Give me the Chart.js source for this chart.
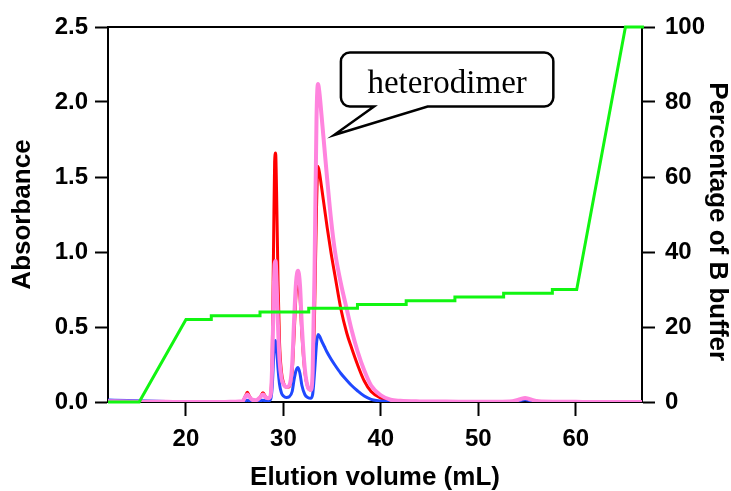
<!DOCTYPE html>
<html><head><meta charset="utf-8">
<script src="https://cdn.jsdelivr.net/npm/chart.js@4.4.1/dist/chart.umd.min.js"></script>
<style>html,body{margin:0;padding:0;background:#fff;overflow:hidden}#wrap{width:731px;height:491px;position:relative}</style>
</head><body><div id="wrap"><canvas id="c"></canvas></div>
<script>
// Elution volume (mL) for absorbance traces
const volume = [12,14,16,18,20,22,24,25,25.8,26.1,26.3,26.5,26.8,27.2,27.6,27.9,28.2,28.5,28.7,28.85,29.0,29.1,29.2,29.3,29.45,29.6,29.8,30.0,30.3,30.6,30.9,31.1,31.3,31.5,31.7,31.9,32.2,32.5,32.8,33.0,33.2,33.4,33.55,33.7,33.9,34.2,34.5,34.9,35.3,35.9,36.5,37.0,37.6,38.3,39.0,40.0,41.0,42.0,44,46,48,50,52,53.5,54.3,54.8,55.3,56.2,58,60,62,64,66,67];
const absRed = [0.005,0.003,0.002,0.001,0,0,0,0.002,0.005,0.04,0.065,0.04,0.012,0.01,0.03,0.062,0.03,0.02,0.05,0.3,1.1,1.6,1.66,1.4,0.8,0.4,0.2,0.13,0.1,0.1,0.2,0.45,0.72,0.8,0.7,0.45,0.2,0.1,0.08,0.15,0.6,1.3,1.57,1.53,1.44,1.3,1.16,0.99,0.84,0.62,0.46,0.36,0.25,0.14,0.07,0.025,0.01,0.005,0.003,0.002,0.002,0.001,0.001,0.003,0.012,0.02,0.012,0.003,0.001,0,0,0,0,0];
const absPink = [0.005,0.003,0.002,0.001,0,0,0,0.002,0.005,0.035,0.05,0.035,0.015,0.012,0.03,0.05,0.03,0.025,0.05,0.25,0.7,0.92,0.94,0.8,0.5,0.28,0.16,0.12,0.1,0.11,0.25,0.55,0.8,0.875,0.78,0.5,0.22,0.1,0.08,0.2,0.9,1.9,2.12,2.06,1.92,1.7,1.48,1.21,1.0,0.79,0.62,0.48,0.34,0.21,0.11,0.045,0.015,0.008,0.004,0.003,0.002,0.002,0.002,0.005,0.018,0.027,0.018,0.005,0.002,0.001,0,0,0,0];
const absBlue = [0.013,0.01,0.006,0.003,0.001,0,0,0,0.001,0.008,0.012,0.008,0.003,0.003,0.008,0.012,0.008,0.008,0.02,0.1,0.3,0.4,0.41,0.36,0.22,0.12,0.06,0.04,0.03,0.035,0.07,0.15,0.21,0.23,0.19,0.11,0.05,0.03,0.025,0.05,0.2,0.39,0.45,0.44,0.41,0.37,0.33,0.285,0.245,0.19,0.145,0.11,0.075,0.04,0.018,0.006,0.002,0.001,0.001,0.001,0.001,0.001,0.001,0.002,0.01,0.015,0.01,0.002,0.001,0,0,0,0,0];
// Gradient (% B buffer)
const gradVolume = [12,15.2,20,22.6,22.6,27.6,27.6,32.6,32.6,37.6,37.6,42.6,42.6,47.6,47.6,52.6,52.6,57.6,57.6,60.1,65.1,67];
const gradPercent = [0,0,22,22,23,23,24,24,25,25,26,26,27,27,28,28,29,29,30,30,100,100];
// Tick labels
const xTicks = [20,30,40,50,60];
const absTicks = [0,0.5,1.0,1.5,2.0,2.5];
const pctTicks = [0,20,40,60,80,100];
// Callout annotation (data units)
const calloutText = 'heterodimer';
const calloutBox = {x0:35.9, x1:57.7, yTop:2.33, yBottom:1.97, textY:2.06};
const calloutTail = {base0:39.3, base1:44.8, tipX:35.2, tipY:1.78};

const pts = (xs, ys) => xs.map((x,i)=>({x:x, y:ys[i]}));
const tickFont = {family:'"Liberation Sans", Arial, sans-serif', size:24, weight:'bold'};
const titleFont = {family:'"Liberation Sans", Arial, sans-serif', size:26, weight:'bold', lineHeight:1};

const calloutPlugin = {
  id:'callout',
  afterDatasetsDraw(chart){
    const {ctx, scales:{x, y}} = chart;
    const L = x.getPixelForValue(calloutBox.x0), R = x.getPixelForValue(calloutBox.x1);
    const T = y.getPixelForValue(calloutBox.yTop), B = y.getPixelForValue(calloutBox.yBottom);
    const b0 = x.getPixelForValue(calloutTail.base0), b1 = x.getPixelForValue(calloutTail.base1);
    const tx = x.getPixelForValue(calloutTail.tipX), ty = y.getPixelForValue(calloutTail.tipY);
    const r = 9;
    ctx.save();
    ctx.beginPath();
    ctx.moveTo(L+r, T);
    ctx.lineTo(R-r, T); ctx.arcTo(R, T, R, T+r, r);
    ctx.lineTo(R, B-r); ctx.arcTo(R, B, R-r, B, r);
    ctx.lineTo(b1, B); ctx.lineTo(tx, ty); ctx.lineTo(b0, B);
    ctx.lineTo(L+r, B); ctx.arcTo(L, B, L, B-r, r);
    ctx.lineTo(L, T+r); ctx.arcTo(L, T, L+r, T, r);
    ctx.closePath();
    ctx.fillStyle = '#fff'; ctx.fill();
    ctx.lineWidth = 2.5; ctx.strokeStyle = '#000'; ctx.lineJoin='miter'; ctx.stroke();
    ctx.fillStyle = '#000';
    ctx.font = '33px "Liberation Serif", "Times New Roman", serif';
    ctx.textAlign = 'center'; ctx.textBaseline = 'alphabetic';
    ctx.fillText(calloutText, (L+R)/2, y.getPixelForValue(calloutBox.textY));
    ctx.restore();
  }
};

new Chart(document.getElementById('c'), {
  type:'line',
  data:{datasets:[
    {label:'% B', data:pts(gradVolume, gradPercent), yAxisID:'y1', borderColor:'#11f511', borderWidth:3, tension:0, pointRadius:0, order:0, clip:4},
    {label:'pink', data:pts(volume, absPink), yAxisID:'y', borderColor:'#ff84de', borderWidth:4, cubicInterpolationMode:'monotone', pointRadius:0, order:1},
    {label:'blue', data:pts(volume, absBlue), yAxisID:'y', borderColor:'#1f48ff', borderWidth:3, cubicInterpolationMode:'monotone', pointRadius:0, order:2},
    {label:'red', data:pts(volume, absRed), yAxisID:'y', borderColor:'#ff0000', borderWidth:3, cubicInterpolationMode:'monotone', pointRadius:0, order:3}
  ]},
  options:{
    responsive:true, maintainAspectRatio:false, animation:false,
    layout:{padding:0},
    plugins:{legend:{display:false}, tooltip:{enabled:false}},
    scales:{
      x:{type:'linear', position:'bottom', min:12, max:66.8,
        afterBuildTicks(s){ s.ticks = xTicks.map(v=>({value:v})); },
        afterFit(s){ s.height = 89; },
        grid:{drawOnChartArea:false, tickLength:14, tickWidth:2, tickColor:'#000'},
        border:{color:'#000', width:2},
        ticks:{color:'#000', font:tickFont, padding:9, maxRotation:0},
        title:{display:true, text:'Elution volume (mL)', color:'#000', font:titleFont, padding:{top:0,bottom:0}}
      },
      x2:{type:'linear', position:'top', min:12, max:66.8,
        afterFit(s){ s.height = 27; },
        grid:{display:false}, ticks:{display:false},
        border:{display:true, color:'#000', width:2}
      },
      y:{type:'linear', position:'left', min:0, max:2.5,
        afterBuildTicks(s){ s.ticks = absTicks.map(v=>({value:v})); },
        afterFit(s){ s.width = 108; },
        grid:{drawOnChartArea:false, tickLength:13, tickWidth:2, tickColor:'#000'},
        border:{color:'#000', width:2},
        ticks:{color:'#000', font:tickFont, padding:7, callback:v=>Number(v).toFixed(1)},
        title:{display:true, text:'Absorbance', color:'#000', font:titleFont, padding:{top:10,bottom:0}}
      },
      y1:{type:'linear', position:'right', min:0, max:100,
        afterBuildTicks(s){ s.ticks = pctTicks.map(v=>({value:v})); },
        afterFit(s){ s.width = 89; },
        grid:{drawOnChartArea:false, tickLength:13, tickWidth:2, tickColor:'#000'},
        border:{color:'#000', width:2},
        ticks:{color:'#000', font:tickFont, padding:10},
        title:{display:true, text:'\u00a0\u00a0Percentage of B buffer', color:'#000', font:titleFont, padding:{top:1,bottom:0}}
      }
    }
  },
  plugins:[calloutPlugin]
});
</script></body></html>
